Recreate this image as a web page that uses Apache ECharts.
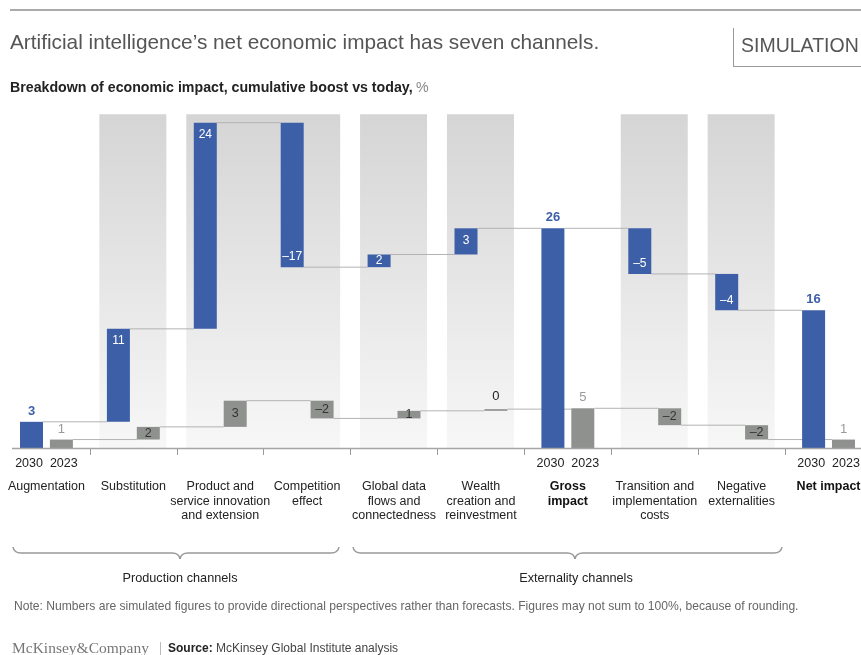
<!DOCTYPE html>
<html><head><meta charset="utf-8">
<script src="https://cdn.jsdelivr.net/npm/echarts@6/dist/echarts.min.js"></script>
<style>html,body{margin:0;padding:0;background:#fff}#c{width:861px;height:655px}</style>
</head><body><div id="c"></div>
<script>
// ---------------- data ----------------
const categories = ['Augmentation', 'Substitution', 'Product and\nservice innovation\nand extension', 'Competition\neffect',
  'Global data\nflows and\nconnectedness', 'Wealth\ncreation and\nreinvestment', 'Gross\nimpact',
  'Transition and\nimplementation\ncosts', 'Negative\nexternalities', 'Net impact'];
const kinds = ['total', 'delta', 'delta', 'delta', 'delta', 'delta', 'total', 'delta', 'delta', 'total'];
const values2030 = [3.1, 11.0, 24.4, -17.1, 1.5, 3.1, 26.0, -5.4, -4.3, 16.3];
const values2023 = [1.0, 1.5, 3.1, -2.1, 0.9, 0.2, 4.7, -2.0, -1.7, 1.0];
const yearLabels = ['2030', '2023'];
const bandRanges = [[1, 1], [2, 3], [4, 4], [5, 5], [7, 7], [8, 8]];
const BAND_TOP = 39.5;
const groupNames = ['Production channels', 'Externality channels'];

// ---------------- style ----------------
const FONT = "'Liberation Sans', Arial, Helvetica, sans-serif";
const BLUE = '#3d5fa8', GRAY = '#8f918f';
const BAR_W = 23, GAP = 0.3, OFF = BAR_W * (1 + GAP) / 2;
const GRID_TOP = 110, GRID_BOTTOM = 207, H = 655;

function waterfall(vals) {
  let cum = 0; const base = [], size = [], level = [];
  vals.forEach((v, i) => {
    if (kinds[i] === 'total') { base.push(0); size.push(v); cum = v; }
    else if (v >= 0) { base.push(cum); size.push(v); cum += v; }
    else { base.push(cum + v); size.push(-v); cum += v; }
    level.push(cum);
  });
  return { base, size, level };
}
const wb = waterfall(values2030), wg = waterfall(values2023);
const fmt = v => { const r = Math.round(v); return r < 0 ? '\u2013' + Math.abs(r) : String(r); };

function blueLabel(i) {
  const v = values2030[i], h = wb.size[i];
  const base = { show: true, formatter: fmt(v), fontFamily: FONT };
  if (kinds[i] === 'total') return Object.assign(base, { position: 'top', distance: 4, color: BLUE, fontWeight: 'bold', fontSize: 13 });
  if (h < 2.5) return Object.assign(base, { position: 'inside', color: '#fff', fontSize: 12 });
  return Object.assign(base, { position: v >= 0 ? 'insideTop' : 'insideBottom', distance: v >= 0 ? 6 : 4, color: '#fff', fontSize: 12 });
}
function grayLabel(i) {
  const v = values2023[i], h = wg.size[i];
  const base = { show: true, formatter: fmt(v), fontFamily: FONT };
  if (kinds[i] === 'total') return Object.assign(base, { position: 'top', distance: 4, color: '#9a9a9a', fontSize: 13 });
  if (h < 0.5) return Object.assign(base, { position: 'top', distance: 6, color: '#222', fontSize: 13 });
  return Object.assign(base, { position: 'inside', color: '#333', fontSize: 12.5 });
}

function connector(off, color) {
  return function (params, api) {
    const i = api.value(0), lv = api.value(1);
    const p1 = api.coord([i, lv]), p2 = api.coord([i + 1, lv]);
    return { type: 'line', shape: { x1: p1[0] + off + BAR_W / 2, y1: p1[1], x2: p2[0] + off - BAR_W / 2, y2: p2[1] },
      style: { stroke: color, lineWidth: 1 } };
  };
}

function brace(x0, x1, xt) {
  const yTop = 547, y = 553, yTip = 559, st = { stroke: '#999', lineWidth: 1.5, fill: null };
  return [
    { type: 'bezierCurve', shape: { x1: x0, y1: yTop, x2: x0 + 8, y2: y, cpx1: x0 + 1, cpy1: y }, style: st },
    { type: 'line', shape: { x1: x0 + 8, y1: y, x2: xt - 8, y2: y }, style: st },
    { type: 'bezierCurve', shape: { x1: xt - 8, y1: y, x2: xt, y2: yTip, cpx1: xt - 1, cpy1: y }, style: st },
    { type: 'bezierCurve', shape: { x1: xt, y1: yTip, x2: xt + 8, y2: y, cpx1: xt + 1, cpy1: y }, style: st },
    { type: 'line', shape: { x1: xt + 8, y1: y, x2: x1 - 8, y2: y }, style: st },
    { type: 'bezierCurve', shape: { x1: x1 - 8, y1: y, x2: x1, y2: yTop, cpx1: x1 - 1, cpy1: y }, style: st }
  ];
}

const chart = echarts.init(document.getElementById('c'));
const yZero = H - GRID_BOTTOM;
const bandFill = { type: 'linear', x: 0, y: 0, x2: 0, y2: 1, colorStops: [{ offset: 0, color: '#d5d5d5' }, { offset: 1, color: '#f7f7f7' }] };

const option = {
  animation: false,
  grid: { left: 3, width: 869, top: GRID_TOP, bottom: GRID_BOTTOM, containLabel: false, outerBoundsMode: 'none' },
  xAxis: {
    type: 'category', data: categories, boundaryGap: true,
    axisLine: { show: false },
    axisTick: { show: true, length: 7, lineStyle: { color: '#999' }, interval: (i) => i !== 0 },
    axisLabel: {
      interval: 0, margin: 1, hideOverlap: false,
      formatter: (val, idx) => {
        const total = kinds[idx] === 'total';
        const yr = total ? '{yr|' + yearLabels.join('  ') + '}' : '{yr| }';
        const tag = total && idx > 0 ? 'b' : 'n';
        return yr + '\n' + val.split('\n').map(s => '{' + tag + '|' + s + '}').join('\n');
      },
      rich: {
        yr: { fontSize: 12.5, lineHeight: 30, color: '#222', fontFamily: FONT },
        n: { fontSize: 12.5, lineHeight: 14.7, color: '#222', fontFamily: FONT },
        b: { fontSize: 12.5, lineHeight: 14.7, color: '#111', fontWeight: 'bold', fontFamily: FONT }
      }
    }
  },
  yAxis: { type: 'value', min: 0, max: 40, show: false },
  series: [
    {
      type: 'custom', z: 0, silent: true,
      data: bandRanges.map(r => [r[0], r[1], BAND_TOP]),
      encode: { x: [0, 1], y: 2 },
      renderItem: (params, api) => {
        const c0 = api.coord([api.value(0), 0]), c1 = api.coord([api.value(1), api.value(2)]);
        const x0 = c0[0] - 34, x1 = c1[0] + 33;
        return { type: 'rect', shape: { x: x0, y: c1[1], width: x1 - x0, height: c0[1] - c1[1] },
          style: { fill: bandFill } };
      }
    },
    {
      type: 'custom', z: 1, silent: true,
      data: wb.level.slice(0, -1).map((lv, i) => [i, lv]),
      encode: { x: 0, y: 1 },
      renderItem: connector(-OFF, '#b3b3b3')
    },
    {
      type: 'custom', z: 1, silent: true,
      data: wg.level.slice(0, -1).map((lv, i) => [i, lv]),
      encode: { x: 0, y: 1 },
      renderItem: connector(OFF, '#b3b3b3')
    },
    { type: 'bar', stack: 'b', barWidth: BAR_W, barGap: (GAP * 100) + '%', silent: true, z: 2,
      itemStyle: { color: 'transparent' }, data: wb.base },
    { type: 'bar', stack: 'b', barWidth: BAR_W, silent: true, z: 2,
      itemStyle: { color: BLUE },
      data: wb.size.map((s, i) => ({ value: s, label: blueLabel(i) })) },
    { type: 'bar', stack: 'g', barWidth: BAR_W, silent: true, z: 2,
      itemStyle: { color: 'transparent' }, data: wg.base },
    { type: 'bar', stack: 'g', barWidth: BAR_W, silent: true, z: 2,
      itemStyle: { color: GRAY },
      data: wg.size.map((s, i) => ({ value: s, label: grayLabel(i) })) }
  ],
  graphic: [
    { type: 'line', shape: { x1: 10, y1: 10, x2: 861, y2: 10 }, style: { stroke: '#aaa', lineWidth: 2 } },
    { type: 'text', x: 10, y: 43, style: { text: 'Artificial intelligence\u2019s net economic impact has seven channels.', font: '20.8px ' + FONT, fill: '#555', verticalAlign: 'middle' } },
    { type: 'line', shape: { x1: 733.5, y1: 28, x2: 733.5, y2: 66 }, style: { stroke: '#999', lineWidth: 1 } },
    { type: 'line', shape: { x1: 733, y1: 66.5, x2: 861, y2: 66.5 }, style: { stroke: '#999', lineWidth: 1 } },
    { type: 'text', x: 741, y: 47, style: { text: 'SIMULATION', font: '19.5px ' + FONT, fill: '#555', verticalAlign: 'middle' } },
    { type: 'text', x: 10, y: 88, style: { text: '{b|Breakdown of economic impact, cumulative boost vs today,} {p|%}', verticalAlign: 'middle',
      rich: { b: { font: 'bold 14.2px ' + FONT, fill: '#222' }, p: { font: '14.2px ' + FONT, fill: '#888' } } } },
    { type: 'line', shape: { x1: 12, y1: yZero + 0.5, x2: 861, y2: yZero + 0.5 }, style: { stroke: '#a5a5a5', lineWidth: 1.5 }, z: 10 },
    ...brace(13, 339, 180),
    ...brace(353, 782, 575),
    { type: 'text', x: 180, y: 578, style: { text: groupNames[0], font: '12.7px ' + FONT, fill: '#222', align: 'center', verticalAlign: 'middle' } },
    { type: 'text', x: 576, y: 578, style: { text: groupNames[1], font: '12.7px ' + FONT, fill: '#222', align: 'center', verticalAlign: 'middle' } },
    { type: 'text', x: 14, y: 607, style: { text: 'Note: Numbers are simulated figures to provide directional perspectives rather than forecasts. Figures may not sum to 100%, because of rounding.', font: '12.1px ' + FONT, fill: '#666', verticalAlign: 'middle' } },
    { type: 'text', x: 12, y: 649, style: { text: 'McKinsey&Company', font: "15.5px 'Liberation Serif', 'DejaVu Serif', serif", fill: '#777', verticalAlign: 'middle' } },
    { type: 'line', shape: { x1: 160.5, y1: 642, x2: 160.5, y2: 655 }, style: { stroke: '#bbb', lineWidth: 1 } },
    { type: 'text', x: 168, y: 649, style: { text: '{b|Source:} {n|McKinsey Global Institute analysis}', verticalAlign: 'middle',
      rich: { b: { font: 'bold 12px ' + FONT, fill: '#222' }, n: { font: '12px ' + FONT, fill: '#444' } } } }
  ]
};
chart.setOption(option);
</script>
</body></html>
